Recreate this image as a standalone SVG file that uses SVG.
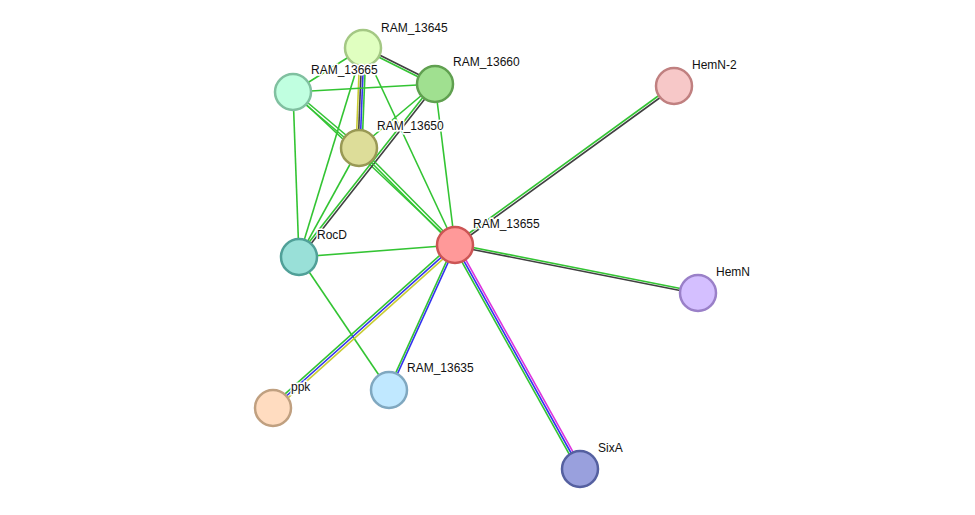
<svg xmlns="http://www.w3.org/2000/svg" width="975" height="515" viewBox="0 0 975 515">
<style>
line{stroke-width:1.6;fill:none}
.g{stroke:#33c433}.k{stroke:#404040}.b{stroke:#3333ee}.y{stroke:#c8cc33}.m{stroke:#dd33dd}
circle{stroke-width:2.5}
text{font-family:"Liberation Sans",Arial,sans-serif;font-size:12px;fill:#111;paint-order:stroke;stroke:#fff;stroke-width:3px}
</style>
<rect width="975" height="515" fill="#fff"/>
<g id="edges">
<line class="g" x1="362.5" y1="49" x2="434.5" y2="85"/><line class="k" x1="363.5" y1="47" x2="435.5" y2="83"/>
<line class="g" x1="363" y1="48" x2="293" y2="92"/>
<line class="y" x1="360" y1="48" x2="356" y2="148"/><line class="k" x1="362" y1="48" x2="358" y2="148"/><line class="b" x1="364" y1="48" x2="360" y2="148"/><line class="g" x1="366" y1="48" x2="362" y2="148"/>
<line class="g" x1="363" y1="48" x2="299" y2="257"/>
<line class="g" x1="363" y1="48" x2="455" y2="245"/>
<line class="g" x1="293" y1="92" x2="435" y2="84"/>
<line class="g" x1="294" y1="91" x2="360" y2="147"/><line class="g" x1="292" y1="93" x2="358" y2="149"/>
<line class="g" x1="293" y1="92" x2="455" y2="245"/>
<line class="g" x1="293" y1="92" x2="299" y2="257"/>
<line class="g" x1="435" y1="84" x2="359" y2="148"/>
<line class="g" x1="434" y1="83.3" x2="298" y2="256.3"/><line class="k" x1="436" y1="84.7" x2="300" y2="257.7"/>
<line class="g" x1="435" y1="84" x2="455" y2="245"/>
<line class="g" x1="359" y1="148" x2="299" y2="257"/>
<line class="g" x1="360" y1="147" x2="456" y2="244"/><line class="g" x1="358" y1="149" x2="454" y2="246"/>
<line class="g" x1="299" y1="257" x2="455" y2="245"/>
<line class="g" x1="299" y1="257" x2="389" y2="390"/>
<line class="g" x1="454.3" y1="244" x2="673.3" y2="85"/><line class="k" x1="455.7" y1="246" x2="674.7" y2="87"/>
<line class="g" x1="455.2" y1="244" x2="698.2" y2="292"/><line class="k" x1="454.8" y1="246" x2="697.8" y2="294"/>
<line class="g" x1="453.4" y1="243.2" x2="271.4" y2="406.2"/><line class="b" x1="455" y1="245" x2="273" y2="408"/><line class="y" x1="456.6" y1="246.8" x2="274.6" y2="409.8"/>
<line class="g" x1="454.1" y1="244.6" x2="388.1" y2="389.6"/><line class="b" x1="455.9" y1="245.4" x2="389.9" y2="390.4"/>
<line class="m" x1="456.9" y1="243.9" x2="581.9" y2="467.9"/><line class="b" x1="455" y1="245" x2="580" y2="469"/><line class="g" x1="453.1" y1="246.1" x2="578.1" y2="470.1"/>
</g>
<g id="RAM_13645"><circle cx="363" cy="48" r="18" fill="#e0ffc0" stroke="#a4c884"/><text x="381" y="32">RAM_13645</text></g>
<g id="RAM_13665"><circle cx="293" cy="92" r="18" fill="#c0ffe0" stroke="#80c0a0"/><text x="311" y="74">RAM_13665</text></g>
<g id="RAM_13660"><circle cx="435" cy="84" r="18" fill="#a0e090" stroke="#60a050"/><text x="453" y="66">RAM_13660</text></g>
<g id="RAM_13650"><circle cx="359" cy="148" r="18" fill="#dddd99" stroke="#999955"/><text x="377" y="130">RAM_13650</text></g>
<g id="RocD"><circle cx="299" cy="257" r="18" fill="#99e0d8" stroke="#50a098"/><text x="317" y="239">RocD</text></g>
<g id="RAM_13655"><circle cx="455" cy="245" r="18" fill="#ff9999" stroke="#cc5555"/><text x="473" y="228">RAM_13655</text></g>
<g id="HemN-2"><circle cx="674" cy="86" r="18" fill="#f7c8c8" stroke="#c08080"/><text x="692" y="69">HemN-2</text></g>
<g id="HemN"><circle cx="698" cy="293" r="18" fill="#d4bfff" stroke="#9a80c8"/><text x="716" y="276">HemN</text></g>
<g id="ppk"><circle cx="273" cy="408" r="18" fill="#ffdcc0" stroke="#c0a080"/><text x="291" y="391">ppk</text></g>
<g id="RAM_13635"><circle cx="389" cy="390" r="18" fill="#c0e8ff" stroke="#80a8c0"/><text x="407" y="372">RAM_13635</text></g>
<g id="SixA"><circle cx="580" cy="469" r="18" fill="#99a0dd" stroke="#5560a0"/><text x="598" y="452">SixA</text></g>
</svg>
